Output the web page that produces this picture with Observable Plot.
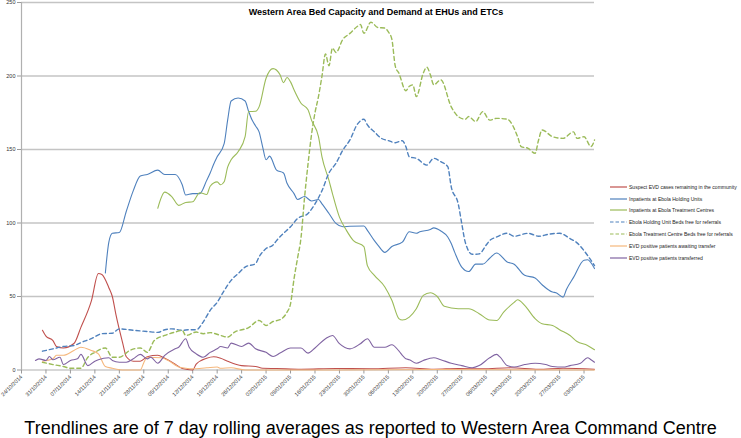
<!DOCTYPE html>
<html><head><meta charset="utf-8">
<script src="https://cdn.jsdelivr.net/npm/d3@7"></script>
<script src="https://cdn.jsdelivr.net/npm/@observablehq/plot@0.6"></script>
<style>
body{margin:0;background:#fff;}
#wrap{position:relative;width:741px;height:438px;overflow:hidden;}
#chart svg{display:block;}
#title{position:absolute;left:0;width:752px;top:7px;text-align:center;font:bold 9px "Liberation Sans",Arial,sans-serif;color:#000;}
#legend{position:absolute;left:610px;top:181px;font:5.05px "Liberation Sans",Arial,sans-serif;color:#222;}
#legend .row{height:11.8px;display:flex;align-items:center;white-space:nowrap;}
#legend svg{margin-right:2px;}
#caption{position:absolute;left:0;width:741px;top:418px;text-align:center;font:18px "Liberation Sans",Arial,sans-serif;color:#000;white-space:nowrap;}
</style></head>
<body>
<div id="wrap">
<div id="chart"></div>
<div id="title"></div>
<div id="legend"></div>
<div id="caption"></div>
</div>
<script>
// Days since 24/10/2014, value
const START = "2014-10-24";
const END = "2015-04-06";
const titleText = "Western Area Bed Capacity and Demand at EHUs and ETCs";
const captionText = "Trendlines are of 7 day rolling averages as reported to Western Area Command Centre";
const xTickLabels = ["24/10/2014","31/10/2014","07/11/2014","14/11/2014","21/11/2014","28/11/2014","05/12/2014","12/12/2014","19/12/2014","26/12/2014","02/01/2015","09/01/2015","16/01/2015","23/01/2015","30/01/2015","06/02/2015","13/02/2015","20/02/2015","27/02/2015","06/03/2015","13/03/2015","20/03/2015","27/03/2015","03/04/2015"];
const yTicks = [0, 50, 100, 150, 200, 250];

const suspectCases = [[6,27],[7,23],[9,20],[10,16],[12,15],[15,18],[17,29],[20,47],[22,65.6],[23,65],[25,56],[26,50],[27,38],[29,18],[30,9],[32,6],[34,6],[36,9],[39,10],[41,8],[44,4],[46,1],[49,0],[50,4],[53,8],[55,9],[57,8],[59,6],[63,3],[67,2.4],[69,1.2],[73,1],[80,0.5],[90,1],[100,0.8],[110,1.5],[118,0.5],[125,1],[132,0.8],[140,1.5],[148,0.5],[155,1.2],[164,0.5]];
const inpatientsEHU = [[24,66],[25,87],[26,93],[28,93.5],[30,108],[32,122],[34,132],[36,133],[39,136],[41,133],[44,133],[46,126],[47,119],[49,120],[51,120],[53,129],[54,134],[55,140],[56,145],[58,154],[59,170],[60,183],[62,185],[64,183],[65,176],[66,170],[67,166],[68,162],[69,152],[70,143],[71,145.5],[73,136],[75,134],[76,127],[78,120],[79,116],[81,118],[83,115],[85,116],[86,113],[88,106.5],[90,99.7],[92,97.4],[94,97.8],[98,98],[99,95],[101,88],[102,85],[104,80],[106,84],[109,87],[111,94],[113,93],[114,94],[117,95.6],[118,96.7],[120,94.6],[122,90.5],[123,86],[124,80],[126,70],[128,67],[130,72],[132,72],[134,76],[136,79.6],[139,73.5],[141,72],[144,64.4],[147,62.6],[149,58],[152,53],[153,52.6],[155,49.6],[156,55],[158,63],[161,74.7],[162,75],[164,69]];
const inpatientsETC = [[39,110],[41,121],[43,118],[45,112],[47,114],[49,114.4],[51,120.6],[53,119.4],[54,125],[56,128],[57,126],[58,128],[59,138],[60,143],[62,148.5],[64,158.7],[65,175.8],[67,176],[68,179],[70,198.5],[72,205],[74,200.8],[75,195.5],[76,199],[77,196],[78,190.6],[80,181.5],[82,177],[83,170],[85,158.7],[86,145],[88,129],[89,120],[91,104],[93,95],[95,88],[98,84],[99,71],[101,64.4],[104,56.5],[106,47.4],[108,35],[109,34],[111,36],[113,41.7],[115,50.8],[117,52.6],[119,50],[121,43.3],[125,41.7],[128,41.7],[131,38.3],[134,34],[136,33.7],[138,39.4],[141,46],[142,47.8],[144,44],[147,35],[149,31.5],[152,30.3],[154,27.4],[157,23.5],[159,19.4],[162,16.7],[164,13.8]];
const ehuBedsFree = [[6,12.8],[9,14.4],[12,16],[15,16.7],[18,19.6],[20,21.3],[23,24.7],[26,25],[28,28],[32,27],[36,26.2],[39,25.6],[41,27.4],[43,28],[46,27],[48,27.4],[50,27.4],[52,32.6],[54,40.6],[56,46],[58,54],[60,61],[62,65.6],[64,70],[67,72.4],[68,77],[70,82.6],[72,85],[73,88],[75,93],[77,97.4],[79,103],[82,106.5],[84,113],[86,122],[88,134],[90,140.6],[92,149.7],[94,156.5],[96,166.7],[98,170.6],[99,166.7],[101,162],[103,157.6],[105,156],[107,154.6],[109,156],[110,152],[111,145],[113,144],[116,139.4],[118,144],[120,141.7],[122,138.3],[123,124.6],[125,113],[126,99.7],[127,87],[129,78.7],[131,79],[133,85],[134,88],[136,90.5],[139,93],[141,91],[145,93],[148,91],[151,92.4],[154,93],[157,89.4],[159,86.5],[162,78],[164,71]];
const etcBedsFree = [[6,5.3],[9,3.7],[12,2.4],[14,1.2],[17,1.2],[19,8.7],[21,12],[24,15],[26,8.7],[28,8.7],[31,13.3],[34,15],[36,12],[38,20],[41,23.5],[44,25.8],[46,27],[47,23.5],[50,25.8],[52,24.7],[54,25.4],[57,23.5],[59,22.4],[61,25.8],[65,28.8],[68,33.7],[70,30.3],[72,33],[74,34.2],[76,39.4],[77,45],[78,62],[79,76],[80,90],[81,117],[82,140],[83,160],[84,175],[85,186],[86,200],[87,215],[88,207],[89,219],[90,216],[92,225],[94,229],[96,233.5],[97,235],[98,229],[100,236.6],[102,233],[104,232.6],[105,230],[106,225],[107,206.5],[108,202],[110,190],[111,193],[112,194],[113,186],[115,202],[116,206],[117,201],[118,194],[120,197.4],[123,179],[125,172.4],[127,170.6],[128,172.4],[130,169],[132,175.8],[134,170],[136,171.2],[139,170.6],[142,158.7],[143,152],[145,150.8],[147,147.4],[148,156.5],[149,163.3],[152,158.7],[155,157.6],[158,162],[159,157.6],[161,158.7],[163,152],[164,156.5]];
const awaitingTransfer = [[6,6],[9,7.6],[10,10],[12,10],[15,13.3],[17,15.5],[20,13.3],[22,11],[24,2.4],[26,1.2],[29,0],[34,0],[35,5],[36,8.7],[40,8.3],[42,6.5],[45,2],[47,1.2],[49,0.8],[53,1.5],[56,2],[57,1.2],[60,1.5],[64,0],[90,0],[120,0.3],[164,0]];
const transferred = [[4,6.5],[5,7.6],[7,6.5],[8,9.2],[9,7],[11,8.7],[12,3.7],[14,6.5],[16,7.6],[17,10.6],[19,3],[21,6],[22,7],[25,8.3],[26,6.5],[28,5.3],[30,5.3],[32,7.6],[34,10.6],[36,7.6],[37,8.7],[39,4.6],[41,10],[44,14.4],[45,15.5],[47,21.3],[48,15.5],[50,11],[52,8.7],[54,12],[56,14.4],[57,16],[59,15],[60,18.3],[63,16],[65,18.3],[67,14.4],[70,12],[72,9.2],[74,11.5],[77,15],[80,15],[82,11.5],[84,15],[87,21.3],[89,23.5],[91,17.9],[94,14.4],[97,17.9],[99,21.3],[101,15.5],[104,15.5],[106,17.2],[108,13],[109,10],[110,7.6],[111,7],[113,4.6],[115,6.5],[118,8.3],[120,7],[123,4.6],[126,3],[129,1.5],[131,3],[134,8.3],[136,10.6],[137,8.7],[139,3],[141,2],[144,3.7],[147,4.6],[150,3.7],[152,2.4],[155,2],[157,3],[160,4.6],[162,8.3],[163,7],[164,5.3]];

const seriesNames = ["Suspect EVD cases remaining in the community","Inpatients at Ebola Holding Units","Inpatients at Ebola Treatment Centres","Ebola Holding Unit Beds free for referrals","Ebola Treatment Centre Beds free for referrals","EVD positive patients awaiting transfer","EVD positive patients transferred"];
const seriesColors = ["#C0504D","#4F81BD","#9BBB59","#4F81BD","#9BBB59","#F5B77C","#8064A2"];
const seriesDashed = [false,false,false,true,true,false,false];
const seriesData = [suspectCases, inpatientsEHU, inpatientsETC, ehuBedsFree, etcBedsFree, awaitingTransfer, transferred];

const start = new Date(START + "T00:00:00Z");
const end = new Date(END + "T00:00:00Z");
const toDate = d => new Date(start.getTime() + d * 86400000);
const parseTick = s => { const [dd, mm, yy] = s.split("/"); return new Date(Date.UTC(+yy, +mm - 1, +dd)); };
const tickDates = xTickLabels.map(parseTick);

const rows = seriesData.flatMap((arr, i) => arr.map(([d, v]) => ({date: toDate(d), value: v, series: seriesNames[i]})));

const gridColor = "#c4c4c4";
const lineMarks = seriesNames.map((name, i) => Plot.line(rows.filter(r => r.series === name), {
  x: "date", y: "value", stroke: seriesColors[i],
  strokeWidth: seriesDashed[i] ? 1.4 : 1.1,
  strokeDasharray: seriesDashed[i] ? "4,3" : null,
  curve: "monotone-x"
}));

const chart = Plot.plot({
  width: 741, height: 412,
  marginLeft: 21, marginRight: 147, marginTop: 2, marginBottom: 42.5,
  style: {fontFamily: "Liberation Sans, Arial, sans-serif", fontSize: "5.5px", color: "#333", background: "#fff"},
  x: {type: "utc", domain: [start, end], label: null},
  y: {domain: [0, 250], label: null},
  marks: [
    Plot.gridY(yTicks.filter(t => t > 0), {stroke: gridColor, strokeOpacity: 1, strokeWidth: 1.6}),
    Plot.ruleY([0], {stroke: "#b0b0b0", strokeWidth: 1.2}),
    Plot.ruleX([start], {stroke: "#b0b0b0", strokeWidth: 1.2}),
    Plot.axisY({ticks: yTicks, tickSize: 4, tickPadding: 2, stroke: "#999", label: null, fontSize: 5.5}),
    Plot.axisX({ticks: tickDates, tickFormat: d3.utcFormat("%d/%m/%Y"), tickSize: 4, tickPadding: 2, tickRotate: -45, stroke: "#999", label: null, fontSize: 5.5}),
    ...lineMarks
  ]
});
document.getElementById("chart").appendChild(chart);
document.getElementById("title").textContent = titleText;
document.getElementById("caption").textContent = captionText;

const leg = document.getElementById("legend");
seriesNames.forEach((name, i) => {
  const row = document.createElement("div");
  row.className = "row";
  row.innerHTML = `<svg width="17" height="4"><line x1="0" y1="2" x2="17" y2="2" stroke="${seriesColors[i]}" stroke-width="1.2" ${seriesDashed[i] ? 'stroke-dasharray="3.5,2"' : ''}/></svg><span></span>`;
  row.querySelector("span").textContent = name;
  leg.appendChild(row);
});
</script>
</body></html>
